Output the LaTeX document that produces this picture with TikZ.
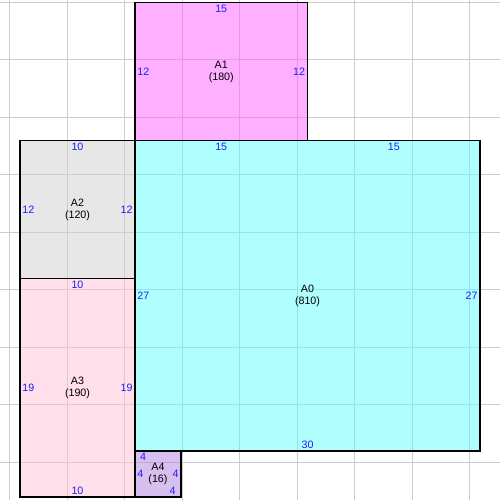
\documentclass[tikz,border=0pt]{standalone}
\usepackage{fontspec}
\setmainfont{Liberation Sans}
\usepackage{tikz}
\usetikzlibrary{positioning,calc}
\definecolor{gridgray}{RGB}{204,204,204}
\definecolor{cyanarea}{RGB}{97,255,255}
\definecolor{pinkarea}{RGB}{255,97,255}
\definecolor{grayarea}{RGB}{209,209,209}
\definecolor{rosearea}{RGB}{255,193,213}
\definecolor{lilacarea}{RGB}{177,129,225}
\definecolor{sideblue}{RGB}{30,30,255}
\tikzstyle{area} = [rectangle, draw, line width=1.1pt, fill opacity=0.5,
text opacity=1, align=center, outer sep=0pt, inner sep=0pt,
font=\fontsize{10.7pt}{12pt}\selectfont]
\tikzstyle{side} = [text=sideblue, inner sep=2.3pt, font=\fontsize{10.7pt}{12pt}\selectfont]
\tikzstyle{gridline} = [draw=gridgray, line width=1pt]

\begin{document}
\begin{tikzpicture}[x=11.5pt, y=11.5pt]
    \clip (-11.739,-4.261) rectangle (31.739,39.217);
    \fill[white] (-11.739,-4.261) rectangle (31.739,39.217);
    % grid
    \foreach \gx in {0,...,8}
        \draw[gridline] ({-10.87+5*\gx},-4.5) -- ++(0,44);
    \foreach \gy in {0,...,8}
        \draw[gridline] (-12,{-1+5*\gy}) -- ++(44,0);

    % nodes
    \node [area, fill=cyanarea, minimum width=345pt, minimum height=310.5pt, anchor=south west] (A0) at (0,0) {A0\\(810)};
    \node [area, fill=pinkarea, minimum width=172.5pt, minimum height=138pt, above right=0pt and 0pt of A0.north west] (A1) {A1\\(180)};
    \node [area, fill=grayarea, minimum width=115pt, minimum height=138pt, below left=0pt and 0pt of A0.north west] (A2) {A2\\(120)};
    \node [area, fill=rosearea, minimum width=115pt, minimum height=218.5pt, below=0pt of A2] (A3) {A3\\(190)};
    \node [area, fill=lilacarea, minimum width=46pt, minimum height=46pt, below right=0pt and 0pt of A0.south west] (A4) {A4\\(16)};

    % side lengths
    \node [side, below] at (A1.north) {15};
    \node [side, right] at (A1.west) {12};
    \node [side, left] at (A1.east) {12};

    \node [side, below] at (A1.south) {15};
    \node [side, below] at ($(A1.south east)!0.5!(A0.north east)$) {15};
    \node [side, right] at (A0.west) {27};
    \node [side, left] at (A0.east) {27};
    \node [side, above] at (A0.south) {30};

    \node [side, below] at (A2.north) {10};
    \node [side, right] at (A2.west) {12};
    \node [side, left] at (A2.east) {12};

    \node [side, below] at (A3.north) {10};
    \node [side, right] at (A3.west) {19};
    \node [side, left] at (A3.east) {19};
    \node [side, above] at (A3.south) {10};

    \node [side, below] at ([xshift=8pt]A4.north west) {4};
    \node [side, right] at (A4.west) {4};
    \node [side, left] at (A4.east) {4};
    \node [side, above] at ([xshift=-8.5pt]A4.south east) {4};
\end{tikzpicture}
\end{document}
